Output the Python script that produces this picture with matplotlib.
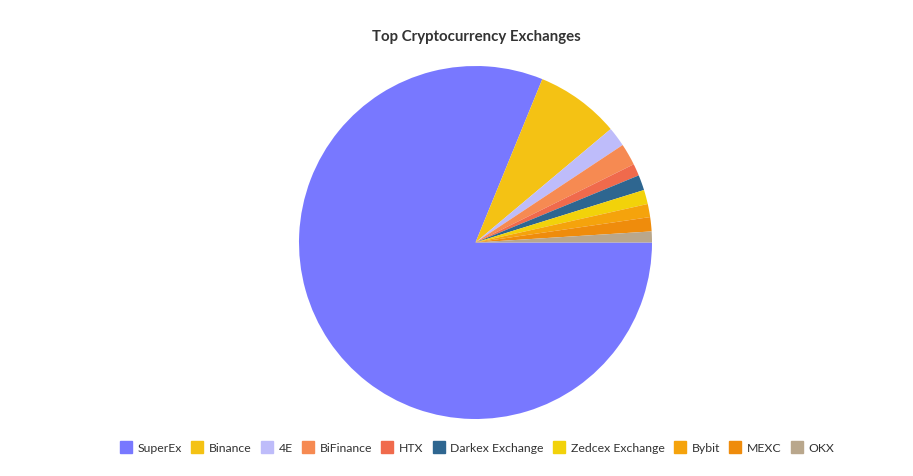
import matplotlib.pyplot as plt
from matplotlib.lines import Line2D

plt.rcParams['font.family'] = ['Lato', 'DejaVu Sans']

exchanges = ["SuperEx", "Binance", "4E", "BiFinance", "HTX", "Darkex Exchange",
             "Zedcex Exchange", "Bybit", "MEXC", "OKX"]
share = [81.1, 7.7, 1.8, 2.0, 1.1, 1.4, 1.3, 1.2, 1.3, 1.0]
colors = ["#7878FF", "#F4C214", "#BEBCFA", "#F68A52", "#F06A4C", "#2E6690",
          "#F2D20A", "#F5A30C", "#EF8C0C", "#B9A78C"]

fig = plt.figure(figsize=(9.13, 4.77), dpi=100)
ax = fig.add_axes([299/913, 57/477, 353/913, 353/477])
ax.pie(share, colors=colors, startangle=0, counterclock=False, radius=1,
       wedgeprops=dict(linewidth=0))
ax.set_xlim(-1, 1)
ax.set_ylim(-1, 1)
ax.set_aspect('equal')
ax.axis('off')

fig.text(476/913, 1 - 37/477, "Top Cryptocurrency Exchanges", ha='center', va='center',
         fontsize=10.8, fontweight='bold', color='#333333')

handles = [Line2D([0], [0], marker='s', linestyle='none', markersize=9,
                  markerfacecolor=c, markeredgecolor=c) for c in colors]
fig.legend(handles, exchanges, loc='center', bbox_to_anchor=(477/913, 1 - 449/477),
           ncol=len(exchanges), frameon=False, fontsize=8.8, handletextpad=0.45,
           columnspacing=0.75, handlelength=1.0, labelcolor='#333333')

fig.savefig("out.png", dpi=100)
